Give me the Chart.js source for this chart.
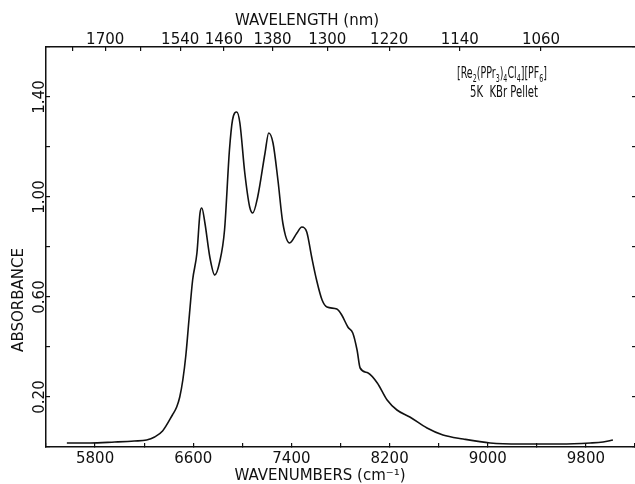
<!DOCTYPE html>
<html>
<head>
<meta charset="utf-8">
<script src="https://cdn.jsdelivr.net/npm/chart.js@4"></script>
<style>
html, body { margin: 0; padding: 0; background: #fff; }
#wrap { width: 635px; height: 484px; }
</style>
</head>
<body>
<div id="wrap"><canvas id="spectrumChart" width="635" height="484"></canvas></div>
<script>
// Spectrum (cm-1, absorbance)
const wavenumbers = [
    5570, 5760, 5960, 6120, 6220, 6285, 6350, 6430, 6465, 6490,
    6515, 6540, 6565, 6595, 6630, 6655, 6670, 6695, 6735, 6775,
    6815, 6855, 6895, 6920, 6955, 6980, 7020, 7060, 7085, 7125,
    7185, 7215, 7250, 7290, 7330, 7385, 7445, 7485, 7525, 7565,
    7605, 7650, 7690, 7770, 7810, 7860, 7900, 7935, 7960, 8025,
    8100, 8180, 8260, 8365, 8505, 8635, 8800, 9020, 9265, 9590,
    9835, 9940, 10020
];
const absorbance = [
    0.016, 0.016, 0.020, 0.024, 0.028, 0.040, 0.064, 0.128, 0.160, 0.200,
    0.268, 0.368, 0.508, 0.668, 0.776, 0.936, 0.956, 0.896, 0.760, 0.688,
    0.740, 0.868, 1.188, 1.308, 1.340, 1.296, 1.096, 0.960, 0.936, 1.000,
    1.176, 1.256, 1.216, 1.068, 0.896, 0.816, 0.856, 0.880, 0.860, 0.760,
    0.668, 0.588, 0.560, 0.552, 0.528, 0.480, 0.456, 0.388, 0.316, 0.296,
    0.256, 0.188, 0.148, 0.120, 0.076, 0.048, 0.032, 0.016, 0.012, 0.012,
    0.016, 0.020, 0.028
];

const wavenumberLabels = [5800, 6600, 7400, 8200, 9000, 9800];
const wavelengthTicks = [1780, 1700, 1620, 1540, 1460, 1380, 1300, 1220, 1140, 1060];
const wavelengthLabels = [1700, 1540, 1460, 1380, 1300, 1220, 1140, 1060];
const absorbanceLabels = [0.20, 0.60, 1.00, 1.40];

// formula pieces, true = subscript
const formulaParts = [
    ['[Re', false], ['2', true], ['(PPr', false], ['3', true], [')', false], ['4', true],
    ['Cl', false], ['4', true], ['][PF', false], ['6', true], [']', false]
];
const sampleNote = '5K  KBr Pellet';

const ink = '#111';
const fontFamily = "'DejaVu Sans', sans-serif";

Chart.defaults.font.family = fontFamily;
Chart.defaults.color = ink;

function drawSquashed(ctx, parts, x, y, width) {
    let total = 0;
    parts.forEach(p => {
        ctx.font = (p[1] ? '10px ' : '15px ') + fontFamily;
        total += ctx.measureText(p[0]).width;
    });
    ctx.save();
    ctx.translate(x, y);
    ctx.scale(width / total, 1);
    let cx = 0;
    parts.forEach(p => {
        ctx.font = (p[1] ? '10px ' : '15px ') + fontFamily;
        ctx.fillText(p[0], cx, p[1] ? 4 : 0);
        cx += ctx.measureText(p[0]).width;
    });
    ctx.restore();
}

// rotated y tick labels, axis titles and the sample note
const frameText = {
    id: 'frameText',
    afterDraw(chart) {
        const ctx = chart.ctx;
        const yScale = chart.scales.y;
        ctx.save();
        ctx.fillStyle = ink;
        ctx.textAlign = 'center';
        ctx.textBaseline = 'middle';
        ctx.font = '15px ' + fontFamily;

        absorbanceLabels.forEach(v => {
            ctx.save();
            ctx.translate(40, yScale.getPixelForValue(v));
            ctx.rotate(-Math.PI / 2);
            ctx.fillText(v.toFixed(2), 0, 0);
            ctx.restore();
        });

        ctx.save();
        ctx.translate(19, 300);
        ctx.rotate(-Math.PI / 2);
        ctx.fillText('ABSORBANCE', 0, 0);
        ctx.restore();

        ctx.fillText('WAVELENGTH (nm)', 307, 21);
        ctx.fillText('WAVENUMBERS (cm⁻¹)', 320, 476);

        ctx.textAlign = 'left';
        ctx.textBaseline = 'alphabetic';
        drawSquashed(ctx, formulaParts, 457, 78, 90);
        drawSquashed(ctx, [[sampleNote, false]], 470, 97, 68);
        ctx.restore();
    }
};

function frameGrid(len) {
    return {
        drawOnChartArea: false,
        drawTicks: true,
        tickLength: -len,
        color: ink,
        lineWidth: 1.2
    };
}

const ctx = document.getElementById('spectrumChart');

new Chart(ctx, {
    type: 'line',
    data: {
        datasets: [{
            data: wavenumbers.map((x, i) => ({ x: x, y: absorbance[i] })),
            borderColor: ink,
            borderWidth: 1.6,
            pointRadius: 0,
            tension: 0.35,
            cubicInterpolationMode: 'monotone',
            fill: false,
            xAxisID: 'x',
            yAxisID: 'y'
        }]
    },
    options: {
        responsive: false,
        animation: false,
        devicePixelRatio: 1,
        layout: { padding: 0 },
        plugins: {
            legend: { display: false },
            tooltip: { enabled: false }
        },
        scales: {
            x: {
                type: 'linear',
                position: 'bottom',
                min: 5400,
                max: 10200,
                ticks: {
                    stepSize: 400,
                    autoSkip: false,
                    maxRotation: 0,
                    padding: 7,
                    font: { size: 15 },
                    callback: v => wavenumberLabels.includes(v) ? String(v) : ''
                },
                grid: frameGrid(4),
                border: { color: ink, width: 1.5 },
                afterFit: s => { s.height = 37; s.paddingLeft = 0; s.paddingRight = 0; }
            },
            x2: {
                type: 'linear',
                position: 'top',
                min: 5400,
                max: 10200,
                afterBuildTicks: s => {
                    s.ticks = wavelengthTicks.map(nm => ({ value: 1e7 / nm }));
                },
                ticks: {
                    autoSkip: false,
                    maxRotation: 0,
                    padding: 2,
                    font: { size: 15 },
                    callback: (v, i) => wavelengthLabels.includes(wavelengthTicks[i]) ? String(wavelengthTicks[i]) : ''
                },
                grid: frameGrid(4),
                border: { color: ink, width: 1.5 },
                afterFit: s => { s.height = 47; s.paddingLeft = 0; s.paddingRight = 0; }
            },
            y: {
                type: 'linear',
                position: 'left',
                min: 0,
                max: 1.6,
                ticks: { stepSize: 0.2, display: false },
                grid: frameGrid(4),
                border: { color: ink, width: 1.5 },
                afterFit: s => { s.width = 46; }
            },
            y2: {
                type: 'linear',
                position: 'right',
                min: 0,
                max: 1.6,
                ticks: { stepSize: 0.2, display: false },
                grid: frameGrid(3),
                border: { display: false },
                afterFit: s => { s.width = 0; }
            }
        }
    },
    plugins: [frameText]
});
</script>
</body>
</html>
